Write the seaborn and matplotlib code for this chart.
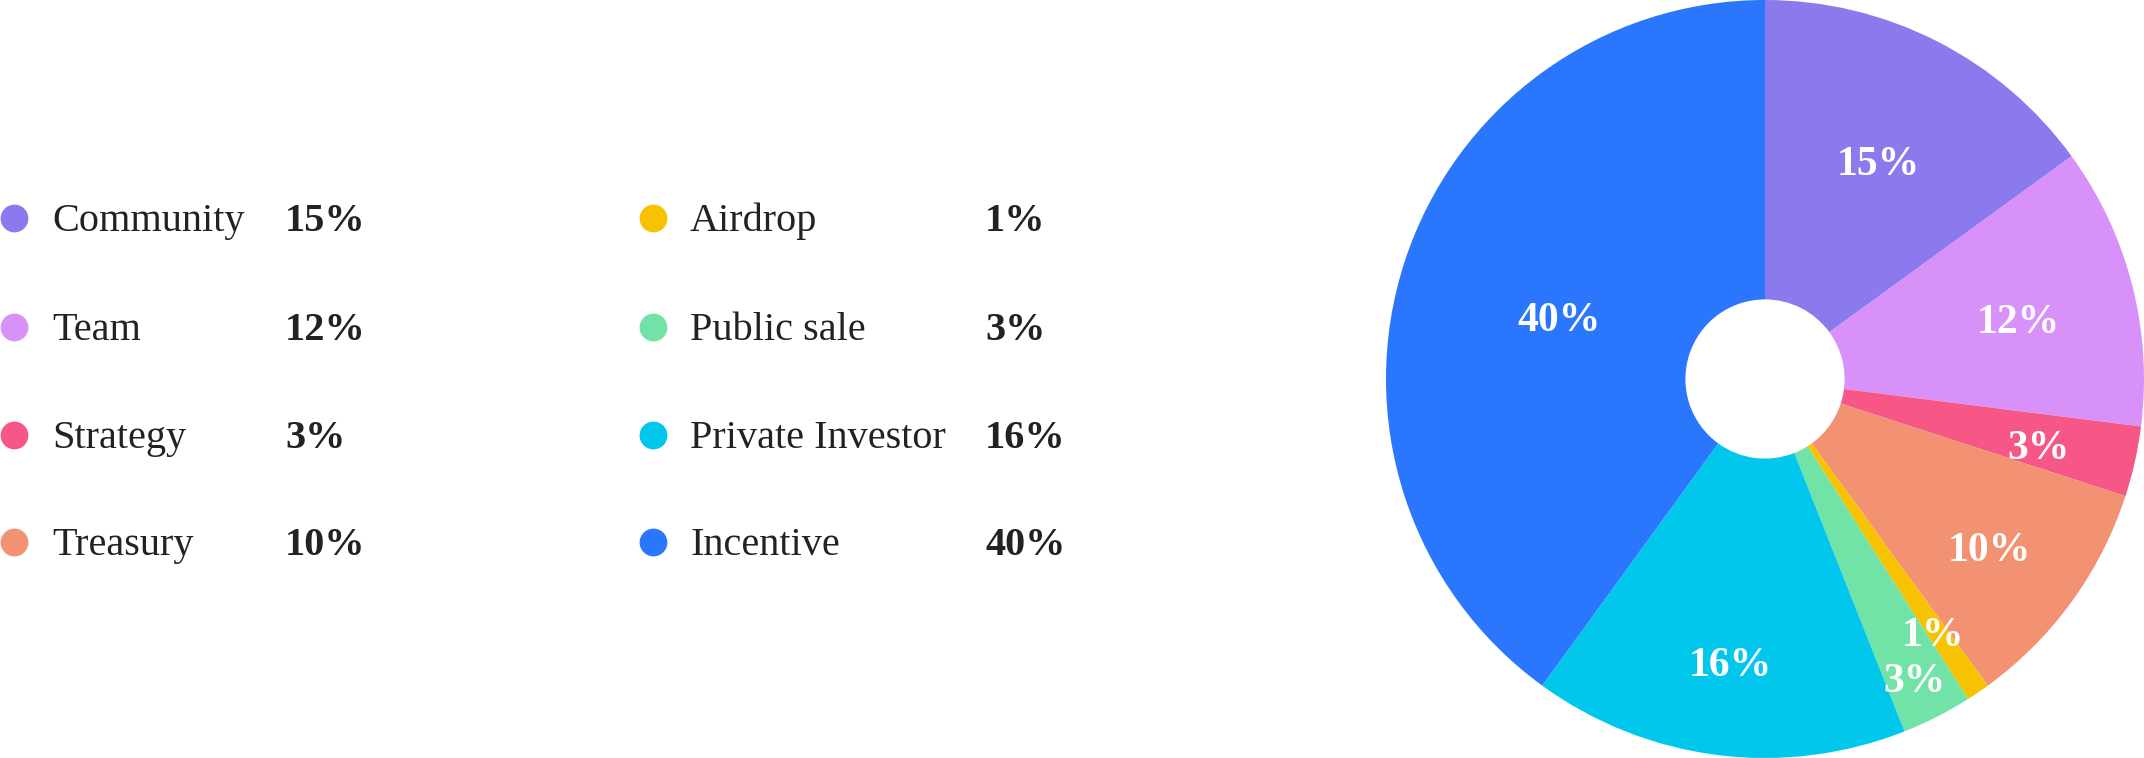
import numpy as np
import matplotlib
matplotlib.use("Agg")
import matplotlib.pyplot as plt
from matplotlib.transforms import offset_copy
import seaborn as sns

categories = ["Community", "Team", "Strategy", "Treasury",
              "Airdrop", "Public sale", "Private Investor", "Incentive"]
shares = [15, 12, 3, 10, 1, 3, 16, 40]
hex_colors = ["#8b7aee", "#d991fa", "#f75786", "#f29272",
              "#f7c200", "#71e3a7", "#01c7ec", "#2a77fe"]
# how far out each inside label sits (fraction of radius)
label_r = [0.66, 0.69, 0.74, 0.73, 0.79, 0.87, 0.74, 0.57]

sns.set_theme(style="white")
plt.rcParams["font.family"] = ["Liberation Serif", "DejaVu Serif"]
palette = sns.color_palette(hex_colors)

W, H = 2144, 758
fig = plt.figure(figsize=(W / 100, H / 100), dpi=100)

# donut on the right
cx, r = 1765, 379
ax = fig.add_axes([(cx - r) / W, 0, 2 * r / W, 1])
wedges, _ = ax.pie(
    shares, colors=palette, startangle=90, counterclock=False,
    wedgeprops=dict(width=0.79, linewidth=0),
)
# baseline sits a bit more than half a cap height below the anchor point
lbl_tr = offset_copy(ax.transData, fig=fig, x=0, y=-19, units="dots")
for w, val, lr in zip(wedges, shares, label_r):
    ang = np.deg2rad((w.theta1 + w.theta2) / 2)
    ax.text(lr * np.cos(ang), lr * np.sin(ang), f"{val}%", color="white",
            fontsize=30, fontweight="bold", ha="center", va="baseline",
            transform=lbl_tr)
ax.set_xlim(-1, 1)
ax.set_ylim(-1, 1)
ax.set_aspect("equal")
ax.axis("off")

# legend on the left, two columns of four
lg = fig.add_axes([0, 0, 1100 / W, 1])
lg.set_xlim(0, 1100)
lg.set_ylim(H, 0)
lg.axis("off")

col_x = [(14, 52, 285), (653, 690, 985)]
row_y = [218, 327, 435, 542]
for i, (name, val) in enumerate(zip(categories, shares)):
    mx, tx, px = col_x[i // 4]
    y = row_y[i % 4]
    lg.scatter(mx, y, s=400, color=palette[i], linewidths=0, clip_on=False)
    lg.text(tx, y + 13, name, fontsize=29, color="#222222",
            va="baseline", ha="left")
    lg.text(px, y + 13, f"{val}%", fontsize=29, color="#222222",
            fontweight="bold", va="baseline", ha="left")

fig.savefig("out.png", dpi=100, facecolor="white")
